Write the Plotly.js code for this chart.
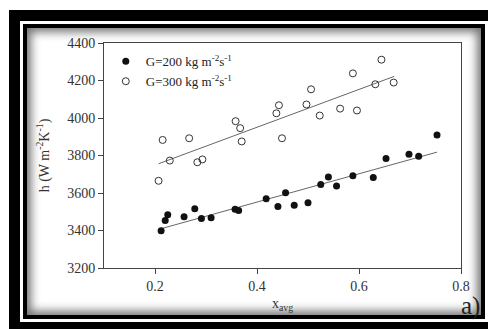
<!DOCTYPE html>
<html>
<head>
<meta charset="utf-8">
<script src="https://cdn.plot.ly/plotly-3.0.1.min.js"></script>
<style>
  html, body { margin: 0; padding: 0; background: #fff; }
  #wrap { position: relative; width: 488px; height: 329px; overflow: hidden; background: #fff; }
  #outer { position: absolute; left: 9px; top: 10px; width: 500px; height: 340px; background: #000; }
  #gap { position: absolute; left: 20px; top: 21px; width: 500px; height: 301px; background: #fff; }
  #inner { position: absolute; left: 23px; top: 24px; width: 454px; height: 287px; border: 4px solid #000; background: #fff;
           box-shadow: inset 0 0 10px 4px rgba(0,0,0,0.55); }
  #chart { position: absolute; left: 0; top: 0; width: 488px; height: 329px; }
</style>
</head>
<body>
<div id="wrap">
  <div id="outer"></div>
  <div id="gap"></div>
  <div id="inner"></div>
  <div id="chart"></div>
</div>
<script>
// G = 200 kg m-2 s-1 (filled)
const x200 = [0.212, 0.220, 0.225, 0.257, 0.278, 0.291, 0.310, 0.357, 0.364, 0.418, 0.441, 0.456, 0.473, 0.500, 0.525, 0.540, 0.556, 0.588, 0.628, 0.653, 0.698, 0.717, 0.753];
const h200 = [3399, 3454, 3484, 3473, 3516, 3464, 3468, 3514, 3507, 3569, 3528, 3601, 3535, 3548, 3646, 3686, 3637, 3692, 3683, 3784, 3807, 3796, 3910];
// G = 300 kg m-2 s-1 (open)
const x300 = [0.207, 0.215, 0.229, 0.267, 0.283, 0.293, 0.358, 0.367, 0.370, 0.438, 0.443, 0.449, 0.497, 0.506, 0.523, 0.563, 0.588, 0.596, 0.632, 0.644, 0.668];
const h300 = [3665, 3883, 3773, 3892, 3764, 3779, 3983, 3946, 3875, 4025, 4068, 3892, 4072, 4153, 4013, 4050, 4238, 4040, 4180, 4311, 4189];
// fitted lines (end points)
const fit200x = [0.207, 0.753];
const fit200y = [3406, 3818];
const fit300x = [0.207, 0.669];
const fit300y = [3756, 4222];

const names = ['G=200 kg m<sup>-2</sup>s<sup>-1</sup>', 'G=300 kg m<sup>-2</sup>s<sup>-1</sup>'];
const xTicks = [0.2, 0.4, 0.6, 0.8];
const yTicks = [3200, 3400, 3600, 3800, 4000, 4200, 4400];

const serif = 'Liberation Serif, Times New Roman, serif';

const traces = [
  { x: fit200x, y: fit200y, mode: 'lines', line: {color: '#666', width: 1}, showlegend: false, hoverinfo: 'skip' },
  { x: fit300x, y: fit300y, mode: 'lines', line: {color: '#666', width: 1}, showlegend: false, hoverinfo: 'skip' },
  { x: x200, y: h200, mode: 'markers', name: names[0],
    marker: {symbol: 'circle', size: 7, color: '#111', line: {color: '#111', width: 0}} },
  { x: x300, y: h300, mode: 'markers', name: names[1],
    marker: {symbol: 'circle-open', size: 7, color: '#333', line: {color: '#333', width: 1}} }
];

const layout = {
  width: 488, height: 329,
  margin: {l: 104, r: 27, t: 43, b: 61},
  paper_bgcolor: 'rgba(0,0,0,0)',
  plot_bgcolor: 'rgba(0,0,0,0)',
  font: {family: serif, size: 14, color: '#333'},
  showlegend: true,
  legend: {x: 0.005, y: 0.985, xanchor: 'left', yanchor: 'top', bgcolor: 'rgba(0,0,0,0)',
           font: {family: serif, size: 13, color: '#222'}, tracegroupgap: 0},
  xaxis: {range: [0.1, 0.8], tickvals: xTicks, ticktext: xTicks.map(v => v.toFixed(1)),
          showgrid: false, zeroline: false, showline: true, linecolor: '#444', linewidth: 1,
          mirror: true, ticks: 'outside', ticklen: 5, tickcolor: '#444',
          tickfont: {family: serif, size: 14, color: '#333'},
          title: {text: 'x<sub>avg</sub>', font: {family: serif, size: 14, color: '#333'}, standoff: 5}},
  yaxis: {range: [3200, 4400], tickvals: yTicks,
          showgrid: false, zeroline: false, showline: true, linecolor: '#444', linewidth: 1,
          mirror: true, ticks: 'outside', ticklen: 5, tickcolor: '#444',
          tickfont: {family: serif, size: 14, color: '#333'},
          title: {text: 'h (W m<sup>-2</sup>K<sup>-1</sup>)', font: {family: serif, size: 14, color: '#333'}, standoff: 14}},
  annotations: [
    {text: 'a)', xref: 'paper', yref: 'paper', x: 1.06, y: -0.168, xanchor: 'right', yanchor: 'middle',
     showarrow: false, font: {family: serif, size: 25, color: '#222'}}
  ]
};

Plotly.newPlot('chart', traces, layout, {displayModeBar: false, staticPlot: true});
</script>
</body>
</html>
